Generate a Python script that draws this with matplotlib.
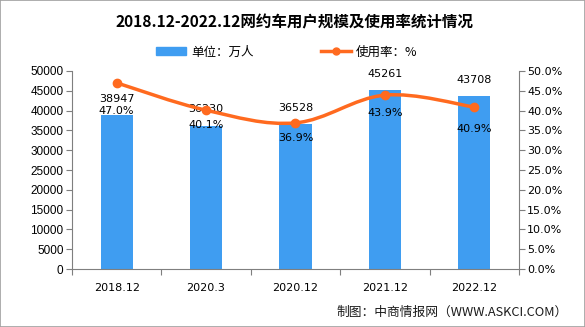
import numpy as np
import matplotlib.pyplot as plt
from matplotlib.path import Path
from matplotlib.patches import PathPatch, Rectangle, Patch
from matplotlib.lines import Line2D

plt.rcParams['font.family'] = ['Noto Sans CJK SC', 'DejaVu Sans']

title = '2018.12-2022.12网约车用户规模及使用率统计情况'
categories = ['2018.12', '2020.3', '2020.12', '2021.12', '2022.12']
users = [38947, 36230, 36528, 45261, 43708]
rate = [47.0, 40.1, 36.9, 43.9, 40.9]
left_ticks = list(range(0, 50001, 5000))
right_ticks = [i * 5.0 for i in range(11)]

bar_color = '#3F9DF1'
line_color = '#FF6A1F'
axis_color = '#7f7f7f'

fig = plt.figure(figsize=(5.85, 3.27), dpi=100)
fig.patches.append(Rectangle((0, 0), 1, 1, transform=fig.transFigure, fill=False,
                             edgecolor='#a0a0a0', linewidth=1.2))

ax = fig.add_axes([0.123, 0.177, 0.764, 0.606])
x = np.arange(len(categories))
ax.bar(x, users, width=0.36, color=bar_color, zorder=2)
ax.set_xlim(-0.5, len(categories) - 0.5)
ax.set_ylim(0, 50000)
ax.set_yticks(left_ticks)
ax.set_yticklabels([str(v) for v in left_ticks], fontsize=8.5, family='Liberation Sans')
ax.set_xticks(list(x - 0.5) + [len(categories) - 0.5])
ax.set_xticklabels([])
ax.set_xticks(x, minor=True)
ax.set_xticklabels(categories, minor=True, fontsize=8, family='DejaVu Sans')
ax.tick_params(axis='x', which='minor', length=0, pad=10)
ax.tick_params(axis='x', which='major', length=4, color=axis_color)
ax.tick_params(axis='y', length=4, color=axis_color, pad=2)
for s in ['top', 'right']:
    ax.spines[s].set_visible(False)
for s in ['left', 'bottom']:
    ax.spines[s].set_color(axis_color)

for xi, v in zip(x, users):
    ax.annotate(str(v), (xi, v), xytext=(0, 8), textcoords='offset points',
                ha='center', va='bottom', fontsize=8, family='DejaVu Sans')

ax2 = ax.twinx()
ax2.set_ylim(0, 50)
ax2.set_yticks(right_ticks)
ax2.set_yticklabels(['%.1f%%' % v for v in right_ticks], fontsize=8, family='DejaVu Sans')
ax2.tick_params(axis='y', length=4, color=axis_color, pad=2)
for s in ['top', 'left', 'bottom']:
    ax2.spines[s].set_visible(False)
ax2.spines['right'].set_color(axis_color)

# smooth line (cardinal spline drawn as bezier segments)
pts = np.column_stack([x, rate]).astype(float)
verts = [tuple(pts[0])]
codes = [Path.MOVETO]
t = 0.35
for i in range(len(pts) - 1):
    p0 = pts[i - 1] if i > 0 else pts[i]
    p1, p2 = pts[i], pts[i + 1]
    p3 = pts[i + 2] if i + 2 < len(pts) else pts[i + 1]
    c1 = p1 + (p2 - p0) * t / 2
    c2 = p2 - (p3 - p1) * t / 2
    verts += [tuple(c1), tuple(c2), tuple(p2)]
    codes += [Path.CURVE4] * 3
ax2.add_patch(PathPatch(Path(verts, codes), facecolor='none', edgecolor=line_color,
                        linewidth=2.5, zorder=3))
ax2.plot(x, rate, 'o', color=line_color, markersize=6, zorder=4)

offsets = [-20, -11, -11, -13, -16]
for xi, v, off in zip(x, rate, offsets):
    ax2.annotate('%.1f%%' % v, (xi, v), xytext=(0, off), textcoords='offset points',
                 ha='center', va='center', fontsize=8, family='DejaVu Sans', zorder=5)

fig.text(0.503, 0.93, title, ha='center', va='center', fontsize=11.2, fontweight='bold')

handles = [Patch(color=bar_color), Line2D([0], [0], color=line_color, lw=2.5, marker='o', markersize=5)]
fig.legend(handles, ['单位：万人', '使用率：%'], loc='center', bbox_to_anchor=(0.49, 0.841),
           ncol=2, frameon=False, fontsize=9, handlelength=2.4, columnspacing=5.4,
           handletextpad=0.4)

fig.text(0.971, 0.046, '制图：中商情报网（WWW.ASKCI.COM）', ha='right', va='center',
         fontsize=9.2, color='#1a1a1a')

fig.savefig('out.png', dpi=100)
